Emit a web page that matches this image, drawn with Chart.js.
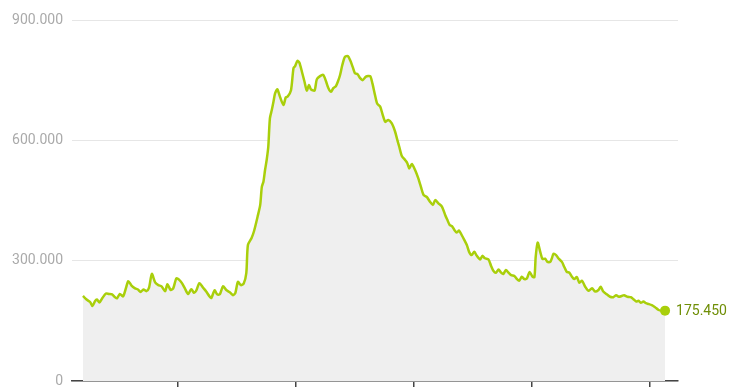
<!DOCTYPE html>
<html>
<head>
<meta charset="utf-8">
<script src="https://cdn.jsdelivr.net/npm/chart.js@4.4.1/dist/chart.umd.min.js"></script>
<style>
  html, body { margin: 0; padding: 0; background: #ffffff; }
  #wrap { width: 740px; height: 389px; }
</style>
</head>
<body>
<div id="wrap"><canvas id="c" width="740" height="389"></canvas></div>
<script>
// Day offsets from the first observation
const days = [0,11,22,29,37,43,51,60,71,80,90,99,105,114,124,133,140,150,161,170,178,187,196,204,213,223,233,243,254,261,271,279,289,299,306,315,325,335,343,350,360,371,381,392,397,407,415,423,433,443,454,464,471,479,488,497,505,510,521,529,540,548,553,558,563,568,573,578,584,589,594,601,609,620,627,633,643,651,656,663,669,677,685,692,699,705,716,723,733,743,752,759,767,774,782,788,795,802,810,819,826,834,841,849,857,865,875,888,895,903,910,919,927,935,944,955,965,972,978,986,996,1003,1009,1017,1027,1037,1045,1053,1063,1073,1082,1089,1099,1110,1120,1126,1134,1141,1149,1156,1163,1171,1179,1187,1194,1202,1210,1218,1228,1235,1243,1254,1262,1269,1277,1285,1293,1300,1308,1316,1324,1334,1342,1349,1357,1365,1373,1381,1390,1396,1400,1406,1414,1421,1429,1436,1445,1450,1455,1463,1470,1481,1488,1496,1504,1512,1519,1527,1535,1543,1553,1563,1574,1584,1594,1601,1609,1620,1630,1640,1649,1657,1666,1673,1684,1694,1702,1711,1718,1725,1733,1741,1749,1759,1769,1780,1790,1800];
// Values (thousands)
const valuesK = [212,203,197,187,199,203,196,207,218,217,216,209,206,217,211,232,249,238,231,228,222,228,224,232,267,246,239,236,224,241,227,231,256,251,244,231,217,229,220,225,244,233,223,210,207,226,216,216,236,227,221,214,219,247,239,243,269,339,356,374,410,439,484,497,526,551,584,655,676,696,717,727,709,688,707,709,724,780,785,798,794,771,746,724,738,727,724,752,760,763,746,730,721,730,735,746,763,788,808,810,800,783,767,765,755,750,759,760,742,713,691,684,663,646,651,642,622,601,584,561,551,543,530,541,526,505,484,464,459,447,439,451,443,435,414,403,389,386,376,370,375,364,352,339,322,314,322,312,303,312,306,303,287,275,270,278,270,267,277,270,264,262,254,250,260,254,256,272,260,259,310,345,322,304,305,297,297,306,317,314,306,297,285,272,270,260,254,259,245,250,235,225,231,223,227,235,223,216,210,209,214,210,212,214,210,209,204,198,200,195,198,194,192,189,184,177,175,175.45];
const values = valuesK.map(v => Math.round(v * 1000));
// Axis ticks
const yTicks = [0, 300000, 600000, 900000];
const xTickDays = [294, 659, 1024, 1389, 1754];
const xRange = [-34, 1840];

const lineColor = '#a9cf0b';
const labelColor = '#6f8e06';

function fmt(v) {
  return String(Math.round(v)).replace(/\B(?=(\d{3})+(?!\d))/g, '.');
}

const points = days.map((d, i) => ({ x: d, y: values[i] }));
const last = points.length - 1;

const endLabel = {
  id: 'endLabel',
  afterDatasetsDraw(chart) {
    const meta = chart.getDatasetMeta(0);
    const pt = meta.data[last];
    if (!pt) return;
    const ctx = chart.ctx;
    ctx.save();
    ctx.font = '14px Roboto';
    ctx.fillStyle = labelColor;
    ctx.textAlign = 'left';
    ctx.textBaseline = 'middle';
    ctx.fillText(fmt(values[last]), pt.x + 11, pt.y + 1);
    ctx.restore();
  }
};

new Chart(document.getElementById('c'), {
  type: 'line',
  data: {
    datasets: [{
      data: points,
      borderColor: lineColor,
      borderWidth: 2.5,
      backgroundColor: '#efefef',
      fill: 'origin',
      tension: 0.25,
      clip: false,
      pointRadius: ctx => ctx.dataIndex === last ? 5 : 0,
      pointBackgroundColor: lineColor,
      pointBorderColor: lineColor,
      pointBorderWidth: 0,
      pointHoverRadius: 0
    }]
  },
  options: {
    responsive: false,
    animation: false,
    events: [],
    layout: { padding: { left: 0, right: 62, top: 20, bottom: 0 } },
    plugins: { legend: { display: false }, tooltip: { enabled: false } },
    scales: {
      x: {
        type: 'linear',
        min: xRange[0],
        max: xRange[1],
        afterBuildTicks: s => { s.ticks = xTickDays.map(v => ({ value: v })); },
        afterFit: s => { s.height = 8; s.paddingLeft = 0; s.paddingRight = 0; },
        ticks: { display: false },
        grid: { drawOnChartArea: false, drawTicks: true, tickLength: 6, color: '#444', lineWidth: 1.5 },
        border: { display: true, color: '#444', width: 1.5 }
      },
      y: {
        min: 0,
        max: 900000,
        afterBuildTicks: s => { s.ticks = yTicks.map(v => ({ value: v })); },
        afterFit: s => { s.width = 72; s.paddingTop = 0; s.paddingBottom = 0; },
        ticks: {
          padding: 9,
          color: '#aaaaaa',
          font: { family: 'Roboto', size: 14 },
          callback: v => fmt(v)
        },
        grid: { drawTicks: false, color: '#e6e6e6', lineWidth: 1 },
        border: { display: false }
      }
    }
  },
  plugins: [endLabel]
});
</script>
</body>
</html>
